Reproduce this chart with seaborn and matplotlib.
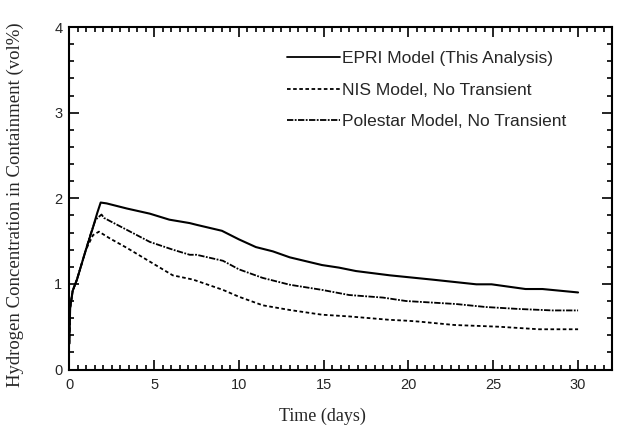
import matplotlib
matplotlib.use("Agg")
import matplotlib.pyplot as plt
from matplotlib.ticker import MultipleLocator
import seaborn as sns

sns.set_theme(style="white")
plt.rcParams["font.family"] = ["Liberation Sans", "DejaVu Sans"]

# Hydrogen concentration histories (days, vol%)
epri_t = [0, 0.05, 0.2, 0.45, 0.95, 1.35, 1.65, 1.85, 2.2, 3.4, 4.75, 5.9, 7.1, 7.5,
          9.0, 10.0, 11.0, 12.0, 13.0, 14.9, 15.9, 16.9, 18.9, 19.9, 21.4, 24.0,
          24.9, 26.9, 27.9, 30.0]
epri_h2 = [0.3, 0.72, 0.92, 1.05, 1.38, 1.63, 1.83, 1.95, 1.94, 1.88, 1.82, 1.75, 1.71,
           1.69, 1.62, 1.52, 1.43, 1.38, 1.31, 1.22, 1.19, 1.15, 1.10, 1.08, 1.05,
           0.995, 0.995, 0.94, 0.94, 0.90]

polestar_t = [0, 0.05, 0.2, 0.45, 0.95, 1.2, 1.55, 1.9, 2.05, 3.4, 4.75, 6.1, 7.1, 7.5,
              9.06, 10.0, 11.4, 13.0, 14.9, 16.5, 18.5, 19.85, 22.8, 24.55, 26.5, 28.5,
              30.0]
polestar_h2 = [0.3, 0.72, 0.92, 1.05, 1.38, 1.55, 1.75, 1.81, 1.77, 1.63, 1.49, 1.40,
               1.34, 1.34, 1.27, 1.17, 1.07, 0.99, 0.93, 0.87, 0.84, 0.80, 0.765, 0.73,
               0.707, 0.69, 0.69]

nis_t = [0, 0.05, 0.2, 0.45, 0.95, 1.1, 1.4, 1.75, 2.4, 3.4, 4.75, 6.1, 7.3, 9.06, 10.0,
         11.4, 13.0, 14.9, 16.5, 18.9, 19.9, 20.6, 22.7, 25.3, 27.7, 30.0]
nis_h2 = [0.3, 0.72, 0.92, 1.05, 1.38, 1.45, 1.57, 1.61, 1.53, 1.42, 1.26, 1.10, 1.05,
          0.93, 0.85, 0.75, 0.695, 0.64, 0.62, 0.58, 0.57, 0.56, 0.52, 0.50, 0.47, 0.47]

labels = ["EPRI Model (This Analysis)", "NIS Model, No Transient",
          "Polestar Model, No Transient"]

fig = plt.figure(figsize=(6.21, 4.26), dpi=100)
ax = fig.add_axes([0.1116, 0.1326, 0.8739, 0.8040])

sns.lineplot(x=epri_t, y=epri_h2, ax=ax, color="black", lw=1.5,
             linestyle="-", label=labels[0])
sns.lineplot(x=nis_t, y=nis_h2, ax=ax, color="black", lw=1.3,
             linestyle=(0, (2.0, 1.4)), label=labels[1])
sns.lineplot(x=polestar_t, y=polestar_h2, ax=ax, color="black", lw=1.3,
             linestyle=(0, (3.5, 0.8, 1.0, 0.8)), label=labels[2])

ax.set_xlim(0, 32)
ax.set_ylim(0, 4)
ax.xaxis.set_major_locator(MultipleLocator(5))
ax.xaxis.set_minor_locator(MultipleLocator(0.5))
ax.yaxis.set_major_locator(MultipleLocator(1))
ax.yaxis.set_minor_locator(MultipleLocator(0.2))
ax.tick_params(which="both", direction="in", top=True, right=True,
               bottom=True, left=True, color="black", width=1.2)
ax.tick_params(which="major", length=7, labelsize=10.5, pad=6)
ax.tick_params(which="minor", length=3.5)
ax.tick_params(axis="y", which="major", pad=5)
for s in ax.spines.values():
    s.set_color("black")
    s.set_linewidth(1.5)

ax.set_xlabel("Time (days)", family=["Liberation Serif"], fontsize=13)
ax.xaxis.set_label_coords(0.466, -0.11)
ax.set_ylabel("Hydrogen Concentration in Containment (vol%)",
              family=["Liberation Serif"], fontsize=13.5)
ax.yaxis.set_label_coords(-0.084, 0.48)

leg = ax.legend(loc="upper left", bbox_to_anchor=(0.402, 0.93), frameon=False,
                fontsize=12.5, handlelength=3.0, handletextpad=0.15,
                labelspacing=0.95, borderpad=0, borderaxespad=0)
for h in leg.get_lines():
    h.set_linewidth(1.3)

fig.savefig("out.png", dpi=100, facecolor="white")
